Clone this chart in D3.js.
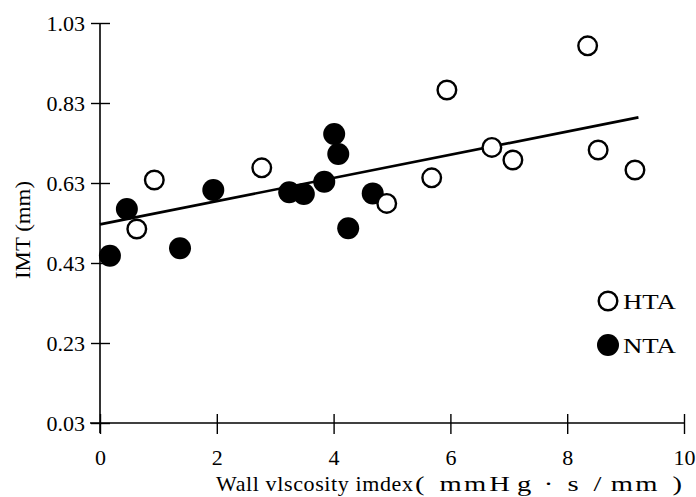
<!DOCTYPE html>
<html>
<head>
<meta charset="utf-8">
<script src="https://cdn.jsdelivr.net/npm/d3@7"></script>
<style>
  body { margin: 0; background: #fff; }
  svg { display: block; }
  text { font-family: "Liberation Serif", "DejaVu Serif", serif; fill: #000; }
</style>
</head>
<body>
<svg id="chart" width="696" height="497"></svg>
<script>
// ---- data ----
const htaX = [0.63, 0.93, 2.77, 4.91, 5.68, 5.94, 6.71, 7.07, 8.35, 8.53, 9.16];
const htaY = [0.515, 0.6375, 0.668, 0.579, 0.643, 0.8625, 0.719, 0.6875, 0.973, 0.7125, 0.6625];
const ntaX = [0.17, 0.46, 1.37, 1.94, 3.24, 3.49, 3.84, 4.01, 4.08, 4.25, 4.67];
const ntaY = [0.448, 0.565, 0.467, 0.6125, 0.607, 0.6025, 0.633, 0.7525, 0.7025, 0.517, 0.604];
const fitX = [0, 9.22];
const fitY = [0.5265, 0.794];
const xTicks = [0, 2, 4, 6, 8, 10];
const yTicks = [0.03, 0.23, 0.43, 0.63, 0.83, 1.03];
const xLabelMain = "Wall vlscosity imdex";
const xLabelUnit = "(mmHg·s/mm)";
const yLabel = "IMT (mm)";
const seriesNames = ["HTA", "NTA"];

const svg = d3.select("#chart");
const x = d3.scaleLinear().domain([0, 10]).range([100, 684]);
const y = d3.scaleLinear().domain([0.03, 1.03]).range([423, 23]);

// axes
const gx = svg.append("g").attr("transform", `translate(0,${y(0.03)})`)
  .call(d3.axisBottom(x).tickValues(xTicks).tickFormat(d3.format("d")).tickSizeOuter(0));
gx.select(".domain").attr("stroke", "#000").attr("stroke-width", 1.6).attr("d", `M${x(0) - 10},0H${x(10)}`);
gx.selectAll(".tick line").attr("y1", -9).attr("y2", 11).attr("stroke", "#000").attr("stroke-width", 1.4);
gx.selectAll(".tick text").attr("y", 42).attr("dy", 0).style("font-size", "22px").style("font-family", "Liberation Serif");

const gy = svg.append("g").attr("transform", `translate(${x(0)},0)`)
  .call(d3.axisLeft(y).tickValues(yTicks).tickFormat(d3.format(".2f")).tickSizeOuter(0));
gy.select(".domain").attr("stroke", "#000").attr("stroke-width", 1.6).attr("d", `M0,${y(0.03) + 10}V${y(1.03)}`);
gy.selectAll(".tick line").attr("x1", -9).attr("x2", 10).attr("stroke", "#000").attr("stroke-width", 1.4);
gy.selectAll(".tick text").attr("x", -15).attr("dy", "0.35em").style("font-size", "22px").style("font-family", "Liberation Serif");
svg.selectAll(".tick text").attr("fill", "#000");

// axis titles
svg.append("text").attr("x", 216).attr("y", 491).style("font-size", "22px")
  .attr("textLength", 197).attr("lengthAdjust", "spacing").text(xLabelMain);
// unit part set in full-width style cells
const unitStart = 414, unitWidth = 269;
const cell = unitWidth / xLabelUnit.length;
const unitChars = Array.from(xLabelUnit);
const unitG = svg.append("g").attr("transform", `translate(${unitStart},491)`);
unitG.selectAll("text").data(unitChars).join("text")
  .attr("transform", (d, i) => {
    const cx = d === "(" ? i * cell + 1 : d === ")" ? (i + 1) * cell - 1 : i * cell + cell / 2;
    return `translate(${cx},0) scale(1.3,1)`;
  })
  .attr("text-anchor", d => d === "(" ? "start" : d === ")" ? "end" : "middle")
  .style("font-size", "22px").text(d => d);
svg.append("text").attr("transform", "translate(30,230) rotate(-90)").attr("text-anchor", "middle")
  .style("font-size", "22px").attr("textLength", 98).attr("lengthAdjust", "spacingAndGlyphs").text(yLabel);

// regression line
svg.append("line")
  .attr("x1", x(fitX[0])).attr("y1", y(fitY[0]))
  .attr("x2", x(fitX[1])).attr("y2", y(fitY[1]))
  .attr("stroke", "#000").attr("stroke-width", 2.6);

// points
const nta = ntaX.map((v, i) => ({x: v, y: ntaY[i]}));
const hta = htaX.map((v, i) => ({x: v, y: htaY[i]}));
svg.append("g").selectAll("circle").data(nta).join("circle")
  .attr("cx", d => x(d.x)).attr("cy", d => y(d.y)).attr("r", 11).attr("fill", "#000");
svg.append("g").selectAll("circle").data(hta).join("circle")
  .attr("cx", d => x(d.x)).attr("cy", d => y(d.y)).attr("r", 9.3)
  .attr("fill", "#fff").attr("stroke", "#000").attr("stroke-width", 2.4);

// legend
const lg = svg.append("g");
lg.append("circle").attr("cx", 608).attr("cy", 301).attr("r", 9.3)
  .attr("fill", "#fff").attr("stroke", "#000").attr("stroke-width", 2.4);
lg.append("text").attr("x", 623).attr("y", 309).style("font-size", "20px")
  .attr("textLength", 53).attr("lengthAdjust", "spacingAndGlyphs").text(seriesNames[0]);
lg.append("circle").attr("cx", 608).attr("cy", 345).attr("r", 11).attr("fill", "#000");
lg.append("text").attr("x", 623).attr("y", 353).style("font-size", "20px")
  .attr("textLength", 53).attr("lengthAdjust", "spacingAndGlyphs").text(seriesNames[1]);
</script>
</body>
</html>
